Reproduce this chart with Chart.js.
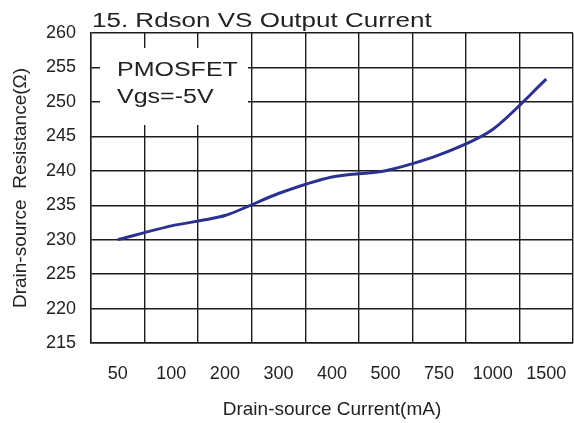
<!DOCTYPE html>
<html>
<head>
<meta charset="utf-8">
<script src="https://cdn.jsdelivr.net/npm/chart.js@4/dist/chart.umd.min.js"></script>
<style>
  html, body { margin: 0; padding: 0; background: #fff; }
  #wrap { width: 574px; height: 423px; }
</style>
</head>
<body>
<div id="wrap"><canvas id="rdson-chart" width="574" height="423"></canvas></div>
<script>
var currents = ['50', '100', '200', '300', '400', '500', '750', '1000', '1500'];
var rdson = [230.0, 232.0, 233.5, 236.7, 239.1, 240.0, 242.3, 246.0, 253.3];
var yMin = 215, yMax = 260, yStep = 5;

var chartTitle = '15. Rdson VS Output Current';
var noteLines = ['PMOSFET', 'Vgs=-5V'];

var ink = '#1c1c1c';
var font = 'Liberation Sans, Arial, sans-serif';

// stretched text, the original figure is wider than normal Arial
function wideText(ctx, text, x, y, size, sx) {
  ctx.save();
  ctx.font = size + 'px ' + font;
  ctx.fillStyle = '#222';
  ctx.textBaseline = 'alphabetic';
  ctx.textAlign = 'left';
  ctx.translate(x, y);
  ctx.scale(sx, 1);
  ctx.fillText(text, 0, 0);
  ctx.restore();
}

var decor = {
  id: 'decor',
  afterDraw: function(chart) {
    var ctx = chart.ctx, a = chart.chartArea;
    wideText(ctx, chartTitle, a.left + 1, a.top - 6, 20, 1.3);
  },
  beforeDatasetsDraw: function(chart) {
    var ctx = chart.ctx, a = chart.chartArea;
    ctx.save();
    ctx.fillStyle = '#fff';
    ctx.fillRect(a.left + 9, a.top + 15, 148, 77);
    ctx.restore();
    wideText(ctx, noteLines[0], a.left + 26, a.top + 43, 20, 1.25);
    wideText(ctx, noteLines[1], a.left + 26, a.top + 70, 20, 1.25);
  }
};

var ctx = document.getElementById('rdson-chart').getContext('2d');
var rdsonChart = new Chart(ctx, {
  type: 'line',
  data: {
    labels: currents,
    datasets: [{
      data: rdson,
      borderColor: '#2b3190',
      borderWidth: 3,
      pointRadius: 0,
      tension: 0.25,
      fill: false
    }]
  },
  options: {
    responsive: false,
    animation: false,
    layout: { padding: { top: 33, right: 1, left: 0, bottom: 0 } },
    plugins: {
      legend: { display: false },
      tooltip: { enabled: false }
    },
    scales: {
      x: {
        type: 'category',
        offset: true,
        grid: { offset: true, color: ink, lineWidth: 1.4, drawTicks: false },
        border: { display: true, color: ink, width: 1.4 },
        ticks: { color: '#222', padding: 20, maxRotation: 0, autoSkip: false, font: { family: font, size: 18 } },
        title: { display: true, text: 'Drain-source Current(mA)', color: '#222', padding: { top: 4, bottom: 2 }, font: { family: font, size: 19 } },
        afterFit: function(scale) {
          scale.height = 80;
          scale.paddingLeft = 0;
          scale.paddingRight = 0;
        }
      },
      y: {
        min: yMin,
        max: yMax,
        grid: { color: ink, lineWidth: 1.4, drawTicks: false },
        border: { display: true, color: ink, width: 1.4 },
        ticks: { stepSize: yStep, color: '#222', padding: 15, font: { family: font, size: 18 } },
        title: { display: true, text: 'Drain-source  Resistance(Ω)', color: '#222', padding: { top: 9, bottom: 0 }, font: { family: font, size: 19 } },
        afterFit: function(scale) {
          scale.width = 91;
          scale.paddingTop = 0;
          scale.paddingBottom = 0;
        }
      }
    }
  },
  plugins: [decor]
});
</script>
</body>
</html>
